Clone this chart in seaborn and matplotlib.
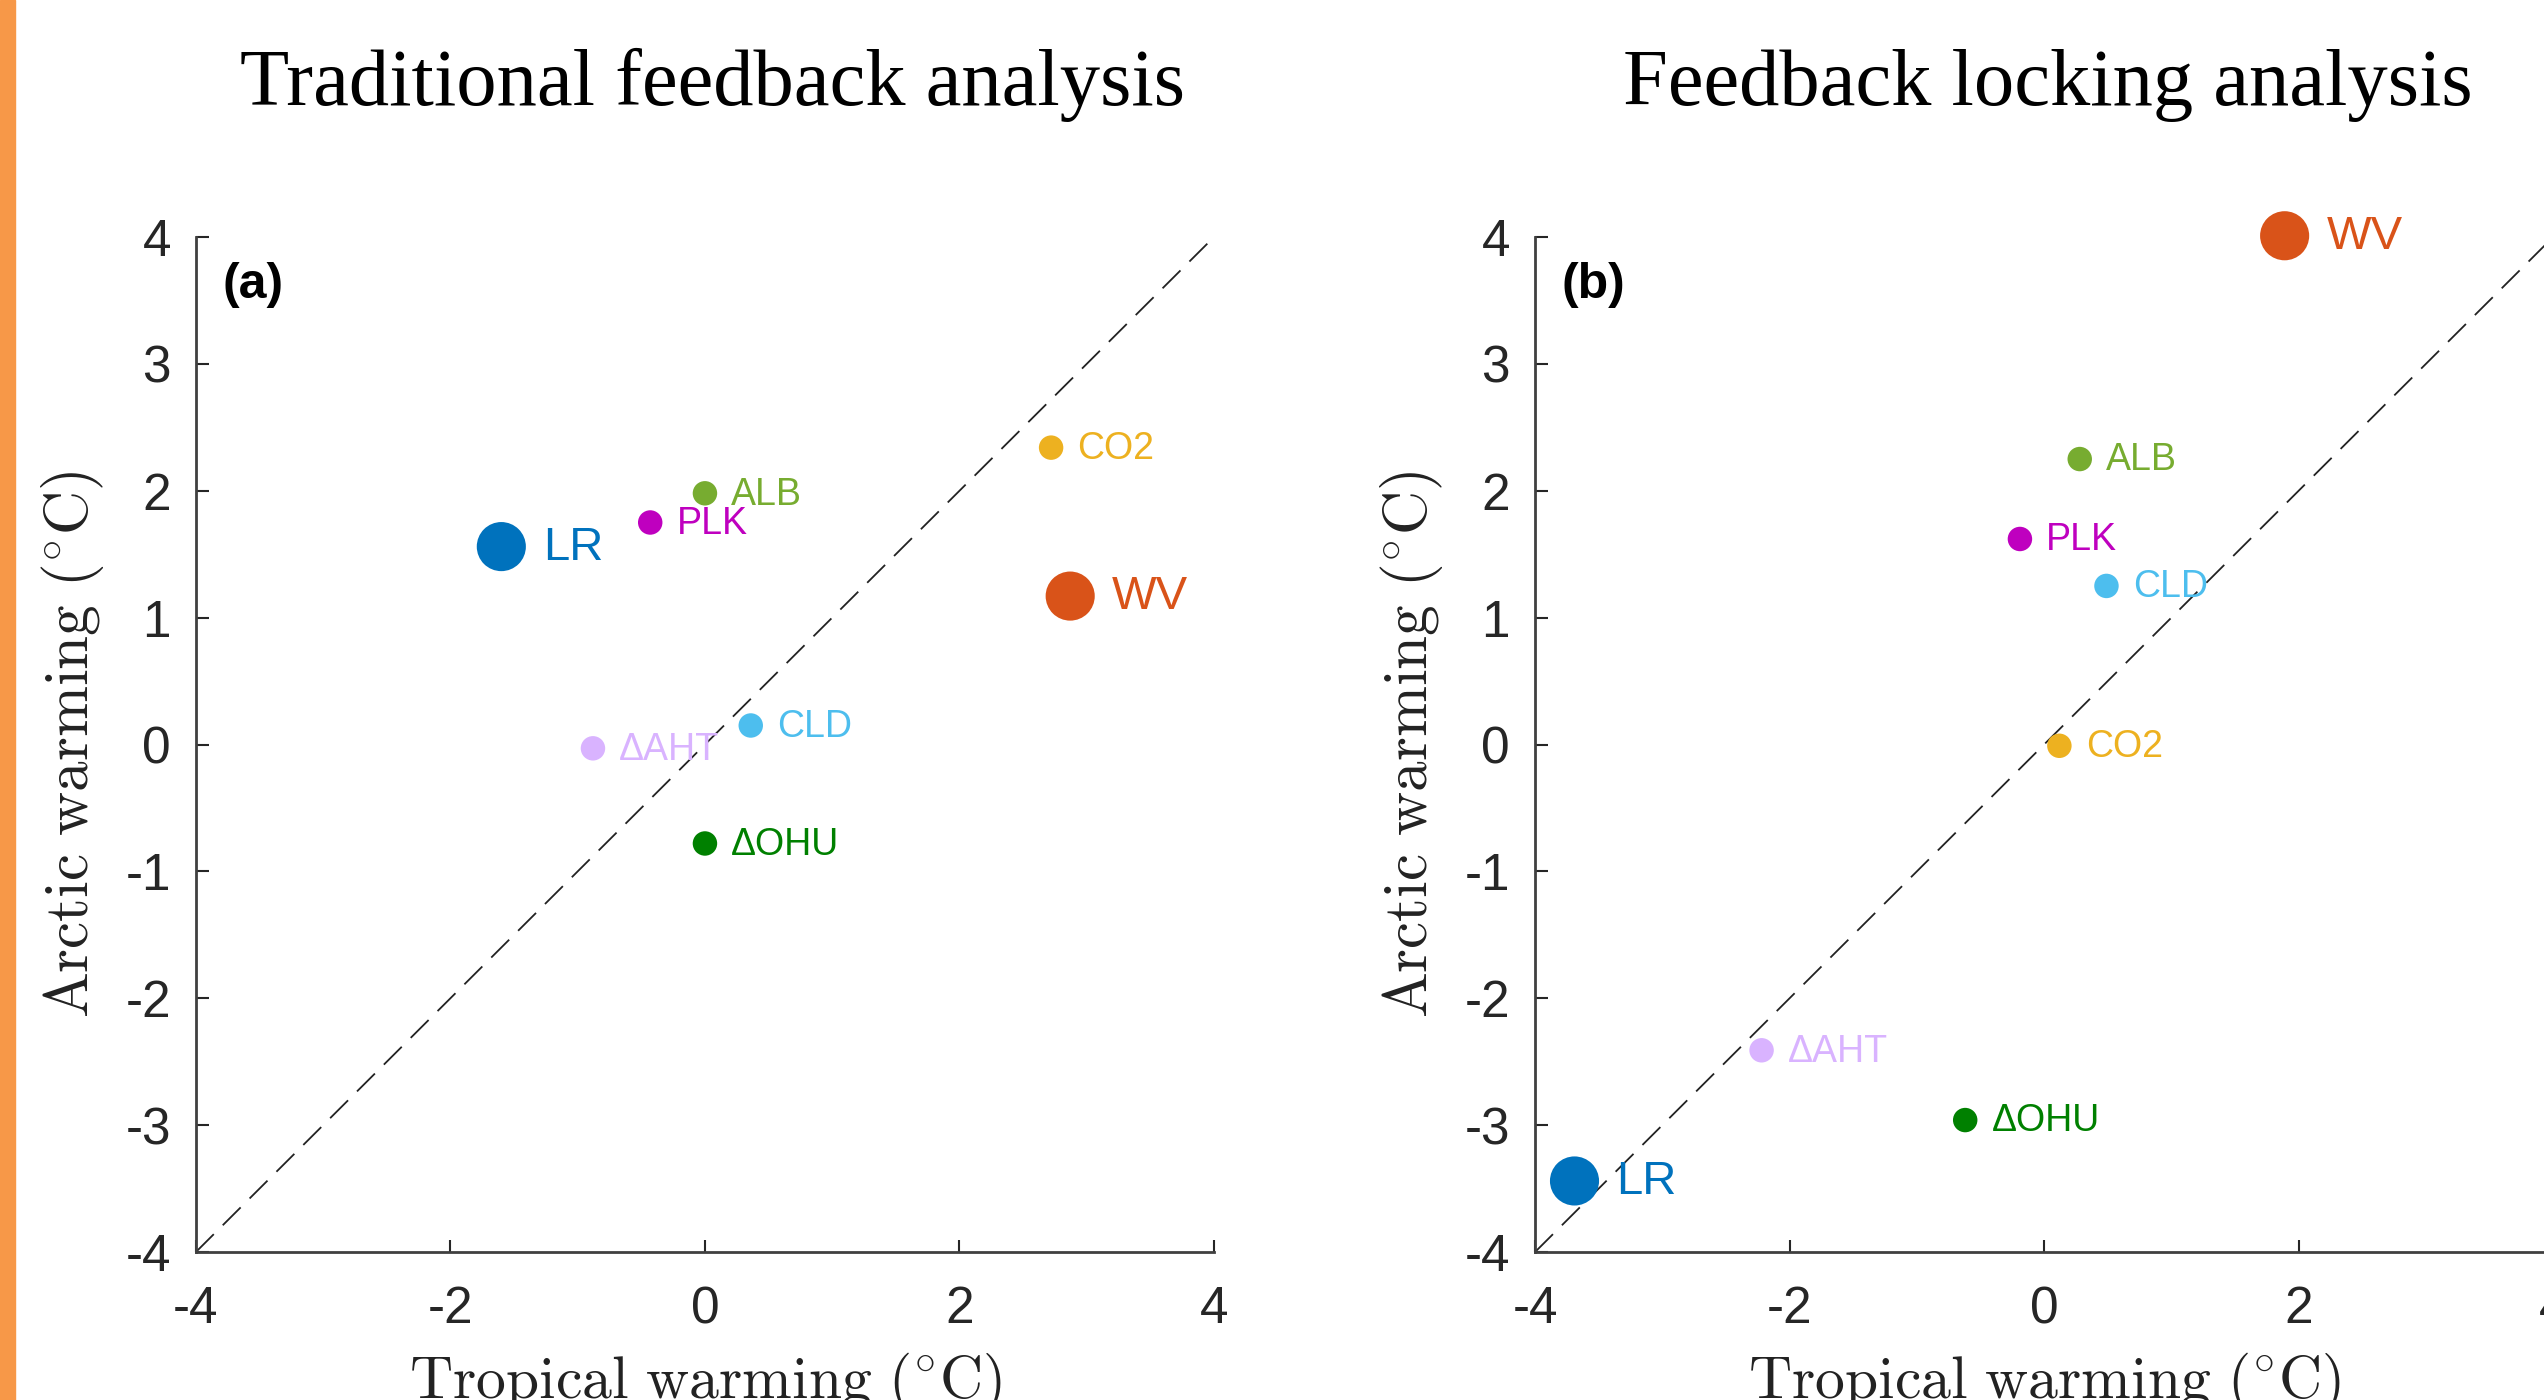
import numpy as np
import pandas as pd
import seaborn as sns
import matplotlib.pyplot as plt
from matplotlib.patches import Rectangle

sns.set_style('ticks')
plt.rcParams['font.family'] = ['Liberation Sans', 'DejaVu Sans']
plt.rcParams['mathtext.fontset'] = 'cm'
plt.rcParams['axes.unicode_minus'] = False

# feedback terms, one point each
names = ['LR', 'WV', 'CO2', 'ALB', 'PLK', 'CLD', '\u0394AHT', '\u0394OHU']
colors = ['#0072BD', '#D95319', '#EDB120', '#77AC30', '#BF00BF', '#4DBEEE', '#D9B3FF', '#008000']
big = [True, True, False, False, False, False, False, False]

# (a) traditional feedback analysis
trop_a = [-1.60, 2.87, 2.72, 0.00, -0.43, 0.36, -0.88, 0.00]
arct_a = [1.56, 1.17, 2.34, 1.98, 1.75, 0.15, -0.03, -0.78]

# (b) feedback locking analysis
trop_b = [-3.69, 1.89, 0.12, 0.28, -0.19, 0.49, -2.22, -0.62]
arct_b = [-3.44, 4.01, -0.01, 2.25, 1.62, 1.25, -2.41, -2.96]

titles = ['Traditional feedback analysis', 'Feedback locking analysis']
panel_tags = ['(a)', '(b)']
xticks = [-4, -2, 0, 2, 4]
yticks = [-4, -3, -2, -1, 0, 1, 2, 3, 4]

fig = plt.figure(figsize=(25.44, 14), dpi=100)
fig.patches.append(Rectangle((0, 0), 15 / 2544, 1, transform=fig.transFigure,
                             color='#F79848', zorder=10))

ax_pos = [[0.0770, 0.1057, 0.4002, 0.725], [0.6034, 0.1057, 0.4002, 0.725]]
title_x = [713 / 2544, 2048 / 2544]

for i, (tx, ty) in enumerate([(trop_a, arct_a), (trop_b, arct_b)]):
    ax = fig.add_axes(ax_pos[i])
    df = pd.DataFrame({'x': tx, 'y': ty, 'name': names, 'big': big})
    ax.plot([-4, 4], [-4, 4], ls=(0, (14, 7)), color='#222222', lw=1.3, zorder=1)
    sizes = {True: 1250, False: 310}
    for b in [False, True]:
        sub = df[df['big'] == b]
        sns.scatterplot(data=sub, x='x', y='y', hue='name', palette=dict(zip(names, colors)),
                        s=sizes[b], linewidth=0, legend=False, ax=ax, zorder=3, clip_on=False)
    for _, r in df.iterrows():
        c = colors[names.index(r['name'])]
        ax.annotate(r['name'], (r['x'], r['y']), xytext=(30 if r['big'] else 19, -1),
                    textcoords='offset points', va='center', ha='left',
                    fontsize=34 if r['big'] else 27, color=c, zorder=4,
                    annotation_clip=False)
    ax.set_xlim(-4, 4)
    ax.set_ylim(-4, 4)
    ax.set_xticks(xticks)
    ax.set_yticks(yticks)
    ax.tick_params(direction='in', length=9, width=1.5, colors='#262626', labelsize=37)
    ax.tick_params(axis='x', pad=24)
    ax.tick_params(axis='y', pad=18)
    sns.despine(ax=ax)
    for sp in ['left', 'bottom']:
        ax.spines[sp].set_linewidth(2)
        ax.spines[sp].set_color('#404040')
    ax.set_xlabel(r'$\mathrm{Tropical\ warming\ (^{\circ}C)}$', fontsize=43, color='#222222')
    ax.set_ylabel(r'$\mathrm{Arctic\ warming\ (^{\circ}C)}$', fontsize=44, color='#222222')
    ax.xaxis.set_label_coords(0.5, -0.097)
    ax.yaxis.set_label_coords(-0.088, 0.5)
    ax.text(0.026, 0.953, panel_tags[i], transform=ax.transAxes, fontsize=36,
            fontweight='bold', va='center', ha='left', color='black')
    fig.text(title_x[i], 1 - 105 / 1400, titles[i], ha='center', va='baseline',
             fontsize=58, family='Liberation Serif', color='black')

fig.savefig('out.png', dpi=100)
